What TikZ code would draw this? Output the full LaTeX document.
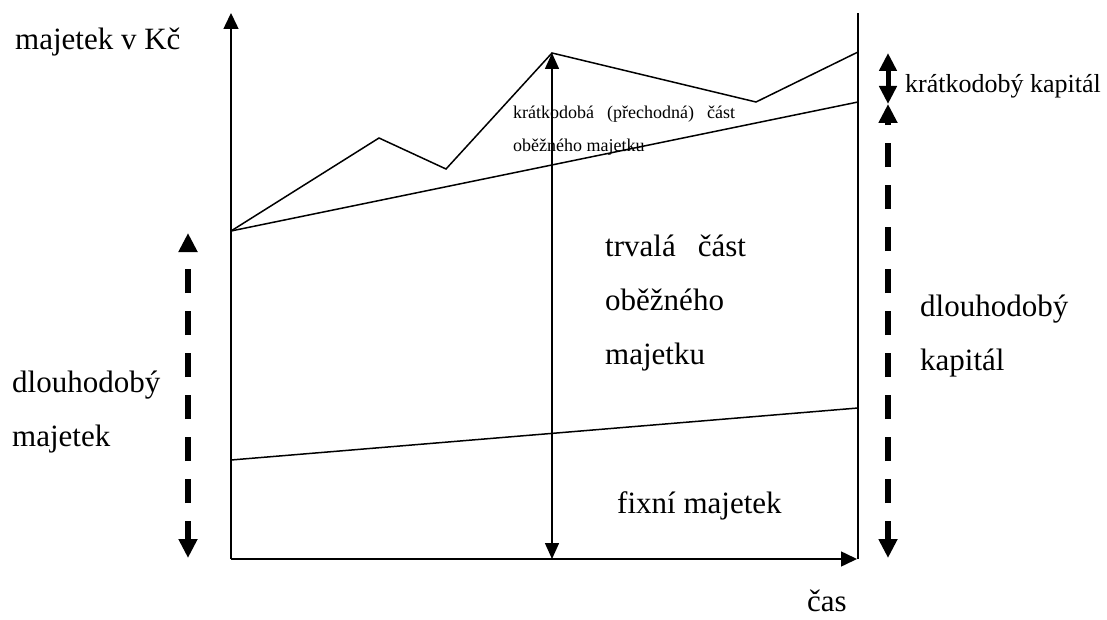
\documentclass[tikz,border=0pt]{standalone}
\usepackage{fontspec}
\setmainfont{Liberation Serif}
\usetikzlibrary{arrows.meta}
\begin{document}
\begin{tikzpicture}[x=1pt,y=-1pt,
  thin line/.style={line width=1.5pt},
  axis arrow/.style={thin line,-{Triangle[length=16pt,width=15pt]}},
  both arrow/.style={thin line,{Triangle[length=16pt,width=14pt]}-{Triangle[length=16pt,width=14pt]}},
  bold dashed/.style={line width=6.5pt,dash pattern=on 24pt off 18pt,dash phase=5pt,
     {Triangle[length=19pt,width=18pt]}-{Triangle[length=19pt,width=18pt]}},
  bold solid/.style={line width=5pt,{Triangle[length=18pt,width=17pt]}-{Triangle[length=18pt,width=17pt]}},
  big/.style={font=\fontsize{31}{31}\selectfont,anchor=base west,inner sep=0pt},
  small/.style={font=\fontsize{18}{18}\selectfont,anchor=base west,inner sep=0pt},
  mid/.style={font=\fontsize{26}{26}\selectfont,anchor=base west,inner sep=0pt}]
\useasboundingbox (0,0) rectangle (1107,620);
% coordinates
\coordinate (O) at (231,559);
\coordinate (Ytop) at (231,13);
\coordinate (Xend) at (857,559);
\coordinate (Rbot) at (858,559);
\coordinate (Rtop) at (858,13);
\coordinate (A) at (231,231);
\coordinate (B) at (379,138);
\coordinate (C) at (446,169);
\coordinate (D) at (552,53);
\coordinate (E) at (756,102);
\coordinate (F) at (858,52);
\coordinate (G) at (858,102);
\coordinate (L1) at (231,460);
\coordinate (L2) at (858,408);
\coordinate (Dbot) at (552,559);
\coordinate (LDtop) at (188,233);
\coordinate (LDbot) at (188,558);
\coordinate (RDtop) at (888,104);
\coordinate (RDbot) at (888,558);
\coordinate (RStop) at (888,53);
\coordinate (RSbot) at (888,104);
% axes and lines
\draw[axis arrow] (O) -- (Ytop);
\draw[axis arrow] (O) -- (Xend);
\draw[thin line] (Rbot) -- (Rtop);
\draw[thin line] (A) -- (B) -- (C) -- (D) -- (E) -- (F);
\draw[thin line] (A) -- (G);
\draw[thin line] (L1) -- (L2);
\draw[both arrow] (Dbot) -- (D);
\draw[bold dashed] (LDbot) -- (LDtop);
\draw[bold dashed] (RDbot) -- (RDtop);
\draw[bold solid] (RSbot) -- (RStop);
% texts
\node[big] (t1) at (15,50) {majetek v Kč};
\node[small] (t2) at (513,119) {krátkodobá\hspace{13pt}(přechodná)\hspace{13pt}část};
\node[small] (t3) at (513,152) {oběžného majetku};
\node[big] (t4) at (605,256) {trvalá\hspace{22pt}část};
\node[big] (t5) at (605,310) {oběžného};
\node[big] (t6) at (605,364) {majetku};
\node[big] (t7) at (12,392) {dlouhodobý};
\node[big] (t8) at (12,446) {majetek};
\node[big] (t9) at (920,316) {dlouhodobý};
\node[big] (t10) at (920,370) {kapitál};
\node[mid] (t11) at (905,93) {krátkodobý kapitál};
\node[big] (t12) at (617,513) {fixní majetek};
\node[big] (t13) at (807,611) {čas};
\end{tikzpicture}
\end{document}
